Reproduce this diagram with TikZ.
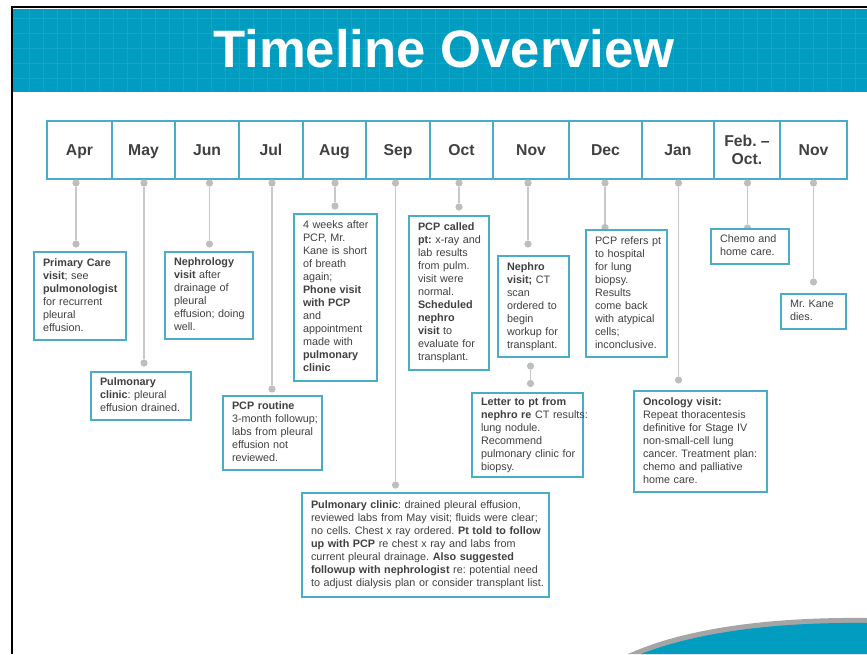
\documentclass[tikz,border=0pt]{standalone}
\usepackage{fontspec}
\setmainfont{Liberation Sans}
\frenchspacing
\definecolor{banner}{RGB}{0,157,193}
\definecolor{gridc}{RGB}{18,166,201}
\definecolor{boxteal}{RGB}{75,172,198}
\definecolor{txt}{RGB}{64,64,64}
\definecolor{dotgray}{RGB}{190,190,190}
\definecolor{linegray}{RGB}{200,200,200}
\definecolor{swgray}{RGB}{165,165,165}
\newcommand{\evl}[1]{\begin{tabular}{@{}l@{}}#1\end{tabular}}
\begin{document}
\begin{tikzpicture}[x=0.75pt,y=-0.75pt,
  month/.style={draw=boxteal, line width=1.6pt, fill=white, minimum width=#1*0.75pt,
    minimum height=43.5pt, inner sep=0pt, text=txt,
    font=\fontsize{11.8}{13.5}\selectfont\bfseries, text height=8.6pt, text depth=0pt},
  monthtwo/.style={draw=boxteal, line width=1.6pt, fill=white, minimum width=#1*0.75pt,
    minimum height=43.5pt, inner sep=0pt, text=txt, align=center,
    font=\fontsize{11.8}{13.5}\selectfont\bfseries},
  ev/.style 2 args={draw=boxteal, line width=2pt, fill=white, minimum width=#1*0.75pt,
    minimum height=#2*0.75pt, text width=(#1-18)*0.75pt, align=left, inner sep=0pt,
    text=txt, font=\fontsize{8.1}{9.75}\selectfont},
  dot/.style={circle, fill=dotgray, inner sep=0pt, minimum size=5.4pt},
  conn/.style={draw=linegray, line width=1.1pt}
]
\useasboundingbox (0,0) rectangle (867,654);
\fill[white] (0,0) rectangle (867,654);
% banner
\fill[banner] (13,9) rectangle (867,92);
\begin{scope}
\clip (13,9) rectangle (867,92);
\foreach \gx in {29,43,...,867} \draw[gridc, line width=0.6pt] (\gx,9) -- (\gx,92);
\foreach \gy in {18,33,...,92} \draw[gridc, line width=0.6pt] (13,\gy) -- (867,\gy);
\end{scope}
\node[text=white, font=\fontsize{39.5}{44}\selectfont\bfseries, anchor=base] (title) at (444,67) {Timeline Overview};
% page frame
\draw[black, line width=1.6pt] (12,654) -- (12,7) -- (867,7);
% bottom swoosh
\fill[swgray] (628,654) .. controls (690,626) and (780,617) .. (867,618) -- (867,654) -- cycle;
\fill[banner] (641,654) .. controls (700,631) and (780,622) .. (867,623) -- (867,654) -- cycle;

% months
\node[month=65] (mApr) at (79.5,150) {Apr};
\node[month=63] (mMay) at (143.5,150) {May};
\node[month=64] (mJun) at (207,150) {Jun};
\node[month=64] (mJul) at (271,150) {Jul};
\node[month=63] (mAug) at (334.5,150) {Aug};
\node[month=64] (mSep) at (398,150) {Sep};
\node[month=63] (mOct) at (461.5,150) {Oct};
\node[month=76] (mNov) at (531,150) {Nov};
\node[month=73] (mDec) at (605.5,150) {Dec};
\node[month=72] (mJan) at (678,150) {Jan};
\node[monthtwo=66] (mFeb) at (747,150) {Feb. --\\Oct.};
\node[month=67] (mNovB) at (813.5,150) {Nov};

% dots
\node[dot] (tApr) at (76,183) {};   \node[dot] (bApr) at (76,244) {};
\node[dot] (tMay) at (144,183) {};  \node[dot] (bMay) at (144,363) {};
\node[dot] (tJun) at (209.5,183) {};\node[dot] (bJun) at (209.5,244) {};
\node[dot] (tJul) at (272,183) {};  \node[dot] (bJul) at (272,389) {};
\node[dot] (tAug) at (335,183) {};  \node[dot] (bAug) at (335,206) {};
\node[dot] (tSep) at (395.5,183) {};\node[dot] (bSep) at (395.5,485) {};
\node[dot] (tOct) at (459,183) {};  \node[dot] (bOct) at (459,207) {};
\node[dot] (tNov) at (528,183) {};  \node[dot] (bNov) at (528,244) {};
\node[dot] (uNov) at (530.5,366) {};\node[dot] (vNov) at (530.5,383.5) {};
\node[dot] (tDec) at (605,183) {};  \node[dot] (bDec) at (605,227.5) {};
\node[dot] (tJan) at (678.5,183) {};\node[dot] (bJan) at (678.5,380) {};
\node[dot] (tFeb) at (747.5,183) {};\node[dot] (bFeb) at (747.5,228) {};
\node[dot] (tNovB) at (813.5,183) {};\node[dot] (bNovB) at (813.5,282) {};

\foreach \m in {Apr,May,Jun,Jul,Aug,Sep,Oct,Nov,Dec,Jan,Feb,NovB}
  \draw[conn] (t\m) -- (b\m);
\draw[conn] (uNov) -- (vNov);

% events
\node[ev={92}{88}] (eApr) at (80,296) {\evl{\textbf{Primary Care}\\\textbf{visit}; see\\\textbf{pulmonologist}\\for recurrent\\pleural\\effusion.}};
\node[ev={100}{48}] (eMay) at (141,396) {\evl{\textbf{Pulmonary}\\\textbf{clinic}: pleural\\effusion drained.}};
\node[ev={88}{87}] (eJun) at (209,295.5) {\evl{\textbf{Nephrology}\\\textbf{visit} after\\drainage of\\pleural\\effusion; doing\\well.}};
\node[ev={99}{74}] (eJul) at (272.5,433) {\evl{\textbf{PCP routine}\\3-month followup;\\labs from pleural\\effusion not\\reviewed.}};
\node[ev={83}{167}] (eAug) at (335.5,297.5) {\evl{4 weeks after\\PCP, Mr.\\Kane is short\\of breath\\again;\\\textbf{Phone visit}\\\textbf{with PCP}\\and\\appointment\\made with\\\textbf{pulmonary}\\\textbf{clinic}}};
\node[ev={247}{104}] (eSep) at (425.5,545) {\evl{\textbf{Pulmonary clinic}: drained pleural effusion,\\reviewed labs from May visit; fluids were clear;\\no cells. Chest x ray ordered. \textbf{Pt told to follow}\\\textbf{up with PCP} re chest x ray and labs from\\current pleural drainage. \textbf{Also suggested}\\\textbf{followup with nephrologist} re: potential need\\to adjust dialysis plan or consider transplant list.}};
\node[ev={80}{154}] (eOct) at (449,293) {\evl{\textbf{PCP called}\\\textbf{pt:} x-ray and\\lab results\\from pulm.\\visit were\\normal.\\\textbf{Scheduled}\\\textbf{nephro}\\\textbf{visit} to\\evaluate for\\transplant.}};
\node[ev={71}{101}] (eNov) at (533.5,306.5) {\evl{\textbf{Nephro}\\\textbf{visit;} CT\\scan\\ordered to\\begin\\workup for\\transplant.}};
\node[ev={111}{84}] (eLetter) at (527.5,435) {\evl{\textbf{Letter to pt from}\\\textbf{nephro re} CT results:\\lung nodule.\\Recommend\\pulmonary clinic for\\biopsy.}};
\node[ev={81}{127}] (eDec) at (626.5,293.5) {\evl{PCP refers pt\\to hospital\\for lung\\biopsy.\\Results\\come back\\with atypical\\cells;\\inconclusive.}};
\node[ev={133}{101}] (eJan) at (700.5,441.5) {\evl{\textbf{Oncology visit:}\\Repeat thoracentesis\\definitive for Stage IV\\non-small-cell lung\\cancer. Treatment plan:\\chemo and palliative\\home care.}};
\node[ev={78}{35}] (eFeb) at (750,246.5) {\evl{Chemo and\\home care.}};
\node[ev={65}{35}] (eNovB) at (813.5,311.5) {\evl{Mr. Kane\\dies.}};
\end{tikzpicture}
\end{document}
